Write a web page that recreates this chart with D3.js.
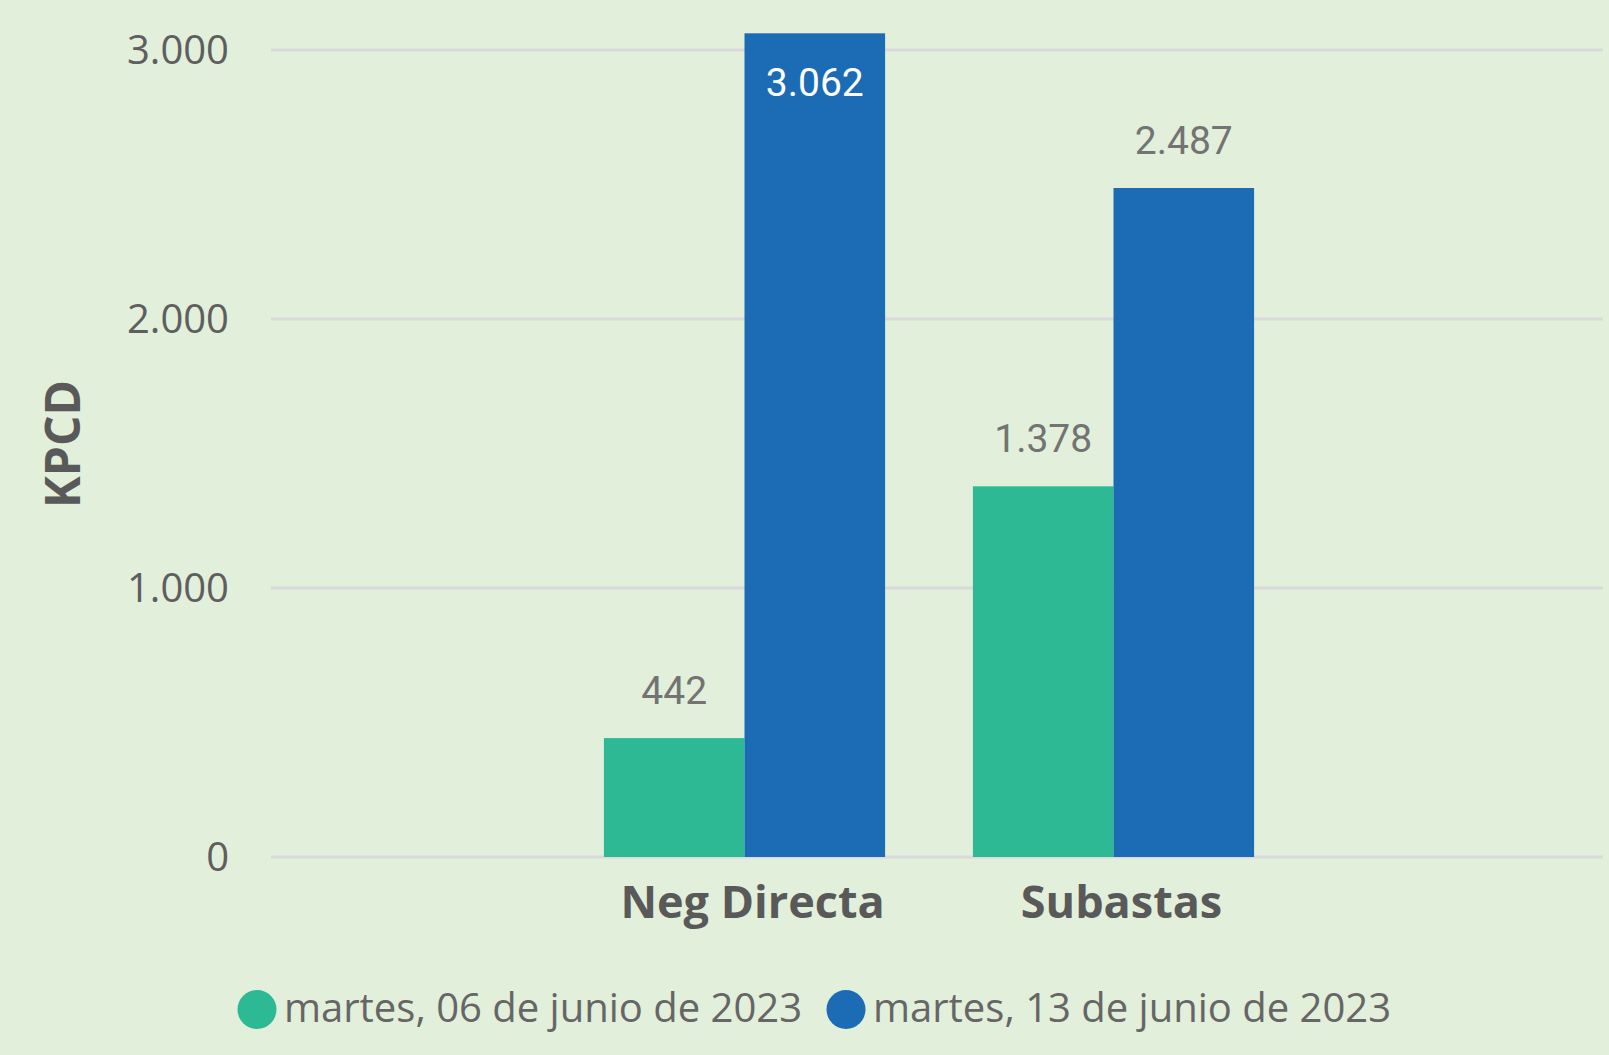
<!DOCTYPE html>
<html><head><meta charset="utf-8">
<script src="https://cdn.jsdelivr.net/npm/d3@7"></script>
<style>
html,body{margin:0;padding:0;background:#E2EFDA;}
svg{display:block;}
</style></head>
<body>
<svg id="chart" width="1609" height="1055"></svg>
<script>
const categories = ["Neg Directa", "Subastas"];
const seriesNames = ["martes, 06 de junio de 2023", "martes, 13 de junio de 2023"];
const series06 = [442, 1378];
const series13 = [3062, 2487];
const yTicks = [0, 1000, 2000, 3000];
const yTickLabels = ["0", "1.000", "2.000", "3.000"];
const colors = ["#2CB994", "#1B6CB4"];

const W = 1609, H = 1055;
const svg = d3.select("#chart");
svg.append("rect").attr("width", W).attr("height", H).attr("fill", "#E2EFDA");

const y = d3.scaleLinear().domain([0, 3000]).range([857, 50]);
const x0 = d3.scaleBand().domain(categories).range([560, 1298]).paddingInner(0.238).paddingOuter(0.119);
const x1 = d3.scaleBand().domain([0, 1]).range([0, x0.bandwidth()]);

// gridlines
svg.append("g").selectAll("line").data(yTicks).join("line")
  .attr("x1", 271).attr("x2", 1603)
  .attr("y1", d => y(d)).attr("y2", d => y(d))
  .attr("stroke", "#DAD9DC").attr("stroke-width", 3);

// y tick labels
svg.append("g").selectAll("text").data(yTicks).join("text")
  .attr("x", 229).attr("y", d => y(d) + 14)
  .attr("text-anchor", "end")
  .attr("font-family", "'Open Sans', sans-serif")
  .attr("font-size", 40).attr("fill", "#5E5E5E")
  .text((d, i) => yTickLabels[i]);

// y title
svg.append("text")
  .attr("transform", "translate(80,444) rotate(-90)")
  .attr("text-anchor", "middle")
  .attr("font-family", "'Open Sans', sans-serif").attr("font-weight", 700)
  .attr("font-size", 48).attr("fill", "#595959")
  .text("KPCD");

const data = [series06, series13];
const gBars = svg.append("g");
data.forEach((vals, s) => {
  gBars.selectAll(null).data(categories).join("rect")
    .attr("x", (c) => x0(c) + x1(s))
    .attr("y", (c, i) => y(vals[i]))
    .attr("width", x1.bandwidth())
    .attr("height", (c, i) => y(0) - y(vals[i]))
    .attr("fill", colors[s]);
});

// value labels
const fmt = v => d3.format(",")(v).replace(/,/g, ".");
data.forEach((vals, s) => {
  svg.append("g").selectAll("text").data(categories).join("text")
    .attr("x", c => x0(c) + x1(s) + x1.bandwidth() / 2)
    .attr("y", (c, i) => {
      const top = y(vals[i]);
      return (top < 100) ? top + 63 : top - 34;
    })
    .attr("text-anchor", "middle")
    .attr("font-family", "Roboto, sans-serif")
    .attr("font-size", 39)
    .attr("fill", (c, i) => y(vals[i]) < 100 ? "#FFFFFF" : "#737373")
    .text((c, i) => fmt(vals[i]));
});

// category labels
svg.append("g").selectAll("text").data(categories).join("text")
  .attr("x", c => x0(c) + x0.bandwidth() / 2 + 8)
  .attr("y", 918)
  .attr("text-anchor", "middle")
  .attr("font-family", "'Open Sans', sans-serif").attr("font-weight", 700)
  .attr("font-size", 45).attr("fill", "#595959")
  .text(c => c);

// legend
const leg = svg.append("g");
const legX = [257, 846];
seriesNames.forEach((name, i) => {
  leg.append("circle").attr("cx", legX[i]).attr("cy", 1009.5).attr("r", 19.5).attr("fill", colors[i]);
  leg.append("text").attr("x", legX[i] + 27).attr("y", 1022)
    .attr("font-family", "'Open Sans', sans-serif")
    .attr("font-size", 40).attr("fill", "#666666")
    .text(name);
});
</script>
</body></html>
